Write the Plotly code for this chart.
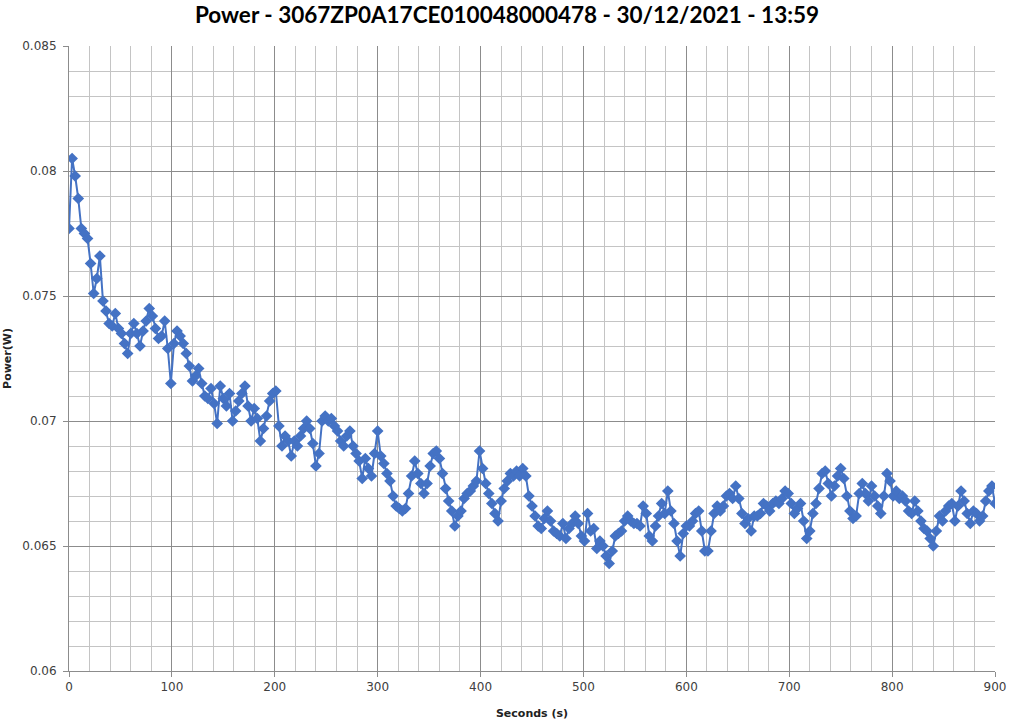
import plotly.graph_objects as go

# Power readings (W), one every 3 seconds
power = [
    0.0777, 0.0805, 0.0798, 0.0789, 0.0777, 0.0775, 0.0773, 0.0763, 0.0751, 0.0757,
    0.0766, 0.0748, 0.0744, 0.0739, 0.0738, 0.0743, 0.0737, 0.0735, 0.0731, 0.0727,
    0.0735, 0.0739, 0.0735, 0.0730, 0.0736, 0.0740, 0.0745, 0.0742, 0.0737, 0.0733,
    0.0734, 0.0740, 0.0729, 0.0715, 0.0731, 0.0736, 0.0734, 0.0731, 0.0727, 0.0722,
    0.0716, 0.0718, 0.0721, 0.0715, 0.0710, 0.0709, 0.0713, 0.0707, 0.0699, 0.0714,
    0.0709, 0.0706, 0.0711, 0.0700, 0.0704, 0.0708, 0.0711, 0.0714, 0.0706, 0.0700,
    0.0705, 0.0701, 0.0692, 0.0697, 0.0702, 0.0708, 0.0711, 0.0712, 0.0698, 0.0690,
    0.0694, 0.0692, 0.0686, 0.0692, 0.0690, 0.0694, 0.0697, 0.0700, 0.0697, 0.0691,
    0.0682, 0.0687, 0.0700, 0.0702, 0.0700, 0.0701, 0.0698, 0.0696, 0.0692, 0.0690,
    0.0694, 0.0696, 0.0690, 0.0687, 0.0684, 0.0677, 0.0685, 0.0681, 0.0678, 0.0687,
    0.0696, 0.0686, 0.0683, 0.0679, 0.0676, 0.0670, 0.0666, 0.0665, 0.0664, 0.0665,
    0.0671, 0.0678, 0.0684, 0.0679, 0.0675, 0.0671, 0.0675, 0.0682, 0.0687, 0.0688,
    0.0685, 0.0679, 0.0673, 0.0668, 0.0664, 0.0658, 0.0662, 0.0664, 0.0669, 0.0671,
    0.0672, 0.0674, 0.0676, 0.0688, 0.0681, 0.0675, 0.0671, 0.0667, 0.0663, 0.0660,
    0.0668, 0.0673, 0.0676, 0.0679, 0.0678, 0.0680, 0.0678, 0.0681, 0.0678, 0.0670,
    0.0666, 0.0662, 0.0658, 0.0657, 0.0661, 0.0664, 0.0660, 0.0656, 0.0655, 0.0654,
    0.0659, 0.0653, 0.0657, 0.0659, 0.0662, 0.0659, 0.0654, 0.0652, 0.0663, 0.0656,
    0.0657, 0.0649, 0.0652, 0.0650, 0.0646, 0.0643, 0.0648, 0.0654, 0.0655, 0.0656,
    0.0660, 0.0662, 0.0660, 0.0659, 0.0659, 0.0658, 0.0666, 0.0663, 0.0654, 0.0652,
    0.0658, 0.0662, 0.0667, 0.0663, 0.0672, 0.0664, 0.0659, 0.0652, 0.0646, 0.0655,
    0.0658, 0.0658, 0.0660, 0.0663, 0.0664, 0.0656, 0.0648, 0.0648, 0.0656, 0.0663,
    0.0666, 0.0664, 0.0666, 0.0670, 0.0671, 0.0669, 0.0674, 0.0669, 0.0663, 0.0659,
    0.0661, 0.0656, 0.0662, 0.0662, 0.0663, 0.0667, 0.0666, 0.0664, 0.0667, 0.0668,
    0.0667, 0.0669, 0.0672, 0.0671, 0.0667, 0.0663, 0.0665, 0.0667, 0.0660, 0.0653,
    0.0656, 0.0663, 0.0667, 0.0673, 0.0679, 0.0680, 0.0675, 0.0670, 0.0674, 0.0678,
    0.0681, 0.0677, 0.0670, 0.0664, 0.0661, 0.0662, 0.0671, 0.0675, 0.0671, 0.0668,
    0.0674, 0.0670, 0.0666, 0.0663, 0.0670, 0.0679, 0.0676, 0.0670, 0.0672, 0.0669,
    0.0670, 0.0668, 0.0664, 0.0663, 0.0668, 0.0664, 0.0660, 0.0657, 0.0656, 0.0653,
    0.0650, 0.0656, 0.0662, 0.0660, 0.0664, 0.0666, 0.0667, 0.0660, 0.0666, 0.0672,
    0.0668, 0.0663, 0.0659, 0.0664, 0.0663, 0.0660, 0.0662, 0.0668, 0.0672, 0.0674,
    0.0667,
]
sample_step = 3
seconds = list(range(0, sample_step * len(power), sample_step))

title_text = "Power - 3067ZP0A17CE010048000478 - 30/12/2021 - 13:59"
x_title = "Seconds (s)"
y_title = "Power(W)"

blue = "#4472C4"
major = "#8c8c8c"
minor = "#c4c4c4"

fig = go.Figure()
fig.add_trace(go.Scatter(
    x=seconds, y=power, mode="lines+markers",
    line=dict(color=blue, width=2),
    marker=dict(symbol="diamond", size=9, color=blue, line=dict(width=0)),
    showlegend=False,
))

tick_font = dict(family="DejaVu Sans", size=12, color="#404040")
fig.update_layout(
    width=1014, height=725,
    paper_bgcolor="white", plot_bgcolor="white",
    margin=dict(l=69, r=19, t=46, b=54),
    title=dict(text="<b>" + title_text + "</b>", x=0.5, xanchor="center",
               xref="container", yref="container", y=1 - 15 / 725,
               yanchor="middle",
               font=dict(family="Lato", size=22.5, color="black")),
    xaxis=dict(
        range=[0, 900], dtick=100, tick0=0, automargin=False,
        showgrid=True, gridcolor=major, gridwidth=1,
        minor=dict(dtick=20, showgrid=True, gridcolor=minor, gridwidth=1,
                   ticks=""),
        showline=True, linecolor=major, linewidth=1,
        ticks="outside", ticklen=5, tickcolor=major,
        zeroline=False, tickfont=tick_font,
        title=dict(text="<b>" + x_title + "</b>", standoff=15,
                   font=dict(family="DejaVu Sans", size=11, color="#222222")),
    ),
    yaxis=dict(
        range=[0.06, 0.085], dtick=0.005, tick0=0.06, automargin=False,
        showgrid=True, gridcolor=major, gridwidth=1,
        minor=dict(dtick=0.001, showgrid=True, gridcolor=minor, gridwidth=1,
                   ticks=""),
        showline=True, linecolor=major, linewidth=1,
        ticks="outside", ticklen=5, tickcolor=major, ticklabelstandoff=4,
        zeroline=False, tickfont=tick_font,
        title=dict(text="<b>" + y_title + "</b>", standoff=8,
                   font=dict(family="DejaVu Sans", size=11, color="#222222")),
    ),
)

fig.write_html("out.html", post_script="document.body.style.margin='0';",
               config={"displayModeBar": False})
